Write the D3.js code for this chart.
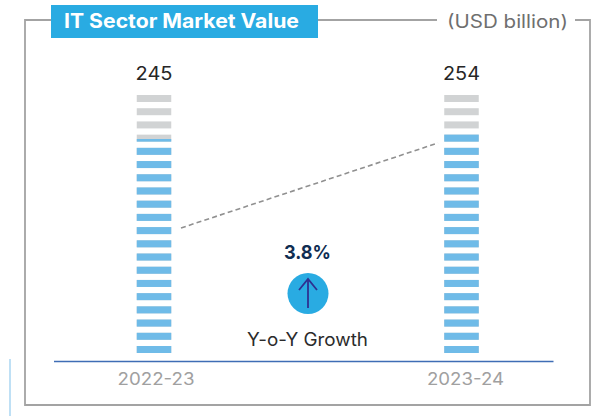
<!DOCTYPE html>
<html><head><meta charset="utf-8">
<script src="https://cdn.jsdelivr.net/npm/d3@7"></script>
<style>html,body{margin:0;padding:0;background:#fff}svg{display:block}text{font-family:Inter,"Open Sans",sans-serif}</style>
</head><body><div id="c"></div>
<script>
const categories = ["2022-23", "2023-24"];
const values = [245, 254];
const growth = "3.8%";
const growthLabel = "Y-o-Y Growth";
const chartTitle = "IT Sector Market Value";
const unitLabel = "(USD billion)";
const segmentCount = 20;

const W = 595, H = 416;
const svg = d3.select("#c").append("svg").attr("width", W).attr("height", H);

svg.append("rect").attr("x", 9).attr("y", 359).attr("width", 2).attr("height", 57).attr("fill", "#bfe0f5");

const frame = d3.path();
frame.moveTo(55, 20); frame.lineTo(25, 20); frame.lineTo(25, 405); frame.lineTo(590, 405); frame.lineTo(590, 20); frame.lineTo(575, 20);
frame.moveTo(315, 20); frame.lineTo(437, 20);
svg.append("path").attr("d", frame.toString()).attr("fill", "none").attr("stroke", "#a3a3a3").attr("stroke-width", 1.8);

svg.append("rect").attr("x", 51).attr("y", 5).attr("width", 267).attr("height", 33).attr("fill", "#29abe2");
svg.append("text").attr("x", 64).attr("y", 28).attr("fill", "#fff").attr("font-size", 20).attr("font-weight", 700)
  .attr("textLength", 235).attr("lengthAdjust", "spacingAndGlyphs").text(chartTitle);
svg.append("text").attr("x", 447).attr("y", 28).attr("fill", "#6f6f6f").attr("font-size", 18)
  .attr("textLength", 121).attr("lengthAdjust", "spacingAndGlyphs").text(unitLabel);

const x = d3.scalePoint().domain(categories).range([154, 461.5]);
const band = d3.scaleBand().domain(d3.range(segmentCount)).range([353, 95]).paddingInner(0.47).paddingOuter(0);
const y = d3.scaleLinear().domain([245, 254]).range([139, 134]);
const segW = 34.5;

const defs = svg.append("defs");
categories.forEach((c, i) => {
  defs.append("clipPath").attr("id", "fill" + i).append("rect")
    .attr("x", x(c) - segW / 2 - 1).attr("width", segW + 2)
    .attr("y", y(values[i])).attr("height", 361 - y(values[i]));
  const g = svg.append("g");
  g.selectAll("rect.track").data(d3.range(segmentCount)).join("rect").attr("class", "track")
    .attr("x", x(c) - segW / 2).attr("width", segW).attr("y", d => band(d)).attr("height", band.bandwidth()).attr("fill", "#d1d3d4");
  g.append("g").attr("clip-path", `url(#fill${i})`)
    .selectAll("rect").data(d3.range(segmentCount)).join("rect")
    .attr("x", x(c) - segW / 2).attr("width", segW).attr("y", d => band(d)).attr("height", band.bandwidth()).attr("fill", "#6fbbe8");
  svg.append("text").attr("x", x(c)).attr("y", 80).attr("text-anchor", "middle").attr("fill", "#262626").attr("font-size", 18)
    .attr("textLength", 37).attr("lengthAdjust", "spacingAndGlyphs").text(values[i]);
});

const axisX = d3.scalePoint().domain(categories).range([155.5, 465]);
const axis = svg.append("g").attr("transform", "translate(0,361.5)").call(d3.axisBottom(axisX).tickSize(0).tickPadding(11.5));
axis.select(".domain").remove();
axis.selectAll("text").attr("fill", "#a0a0a0").attr("font-size", 17).attr("font-family", "Inter")
  .attr("textLength", 77).attr("lengthAdjust", "spacingAndGlyphs");
svg.append("line").attr("x1", 54).attr("x2", 553.5).attr("y1", 361.5).attr("y2", 361.5).attr("stroke", "#3f6db5").attr("stroke-width", 1.4);

svg.append("line").attr("x1", x(categories[0]) + 27).attr("y1", 228).attr("x2", x(categories[1]) - 23.5).attr("y2", 143)
  .attr("stroke", "#909090").attr("stroke-width", 1.6).attr("stroke-dasharray", "5 3.2");

svg.append("text").attr("x", 307.5).attr("y", 259).attr("text-anchor", "middle").attr("fill", "#0f2d52").attr("font-size", 19).attr("font-weight", 700)
  .attr("textLength", 47).attr("lengthAdjust", "spacingAndGlyphs").text(growth);
svg.append("circle").attr("cx", 308).attr("cy", 293.5).attr("r", 20.5).attr("fill", "#29abe2");
svg.append("path").attr("d", "M308 308V279M299 290L308 279L317 290").attr("fill", "none").attr("stroke", "#2e3192").attr("stroke-width", 1.8);
svg.append("text").attr("x", 307.5).attr("y", 346).attr("text-anchor", "middle").attr("fill", "#2b2b2b").attr("font-size", 18)
  .attr("textLength", 121).attr("lengthAdjust", "spacingAndGlyphs").text(growthLabel);
</script></body></html>
